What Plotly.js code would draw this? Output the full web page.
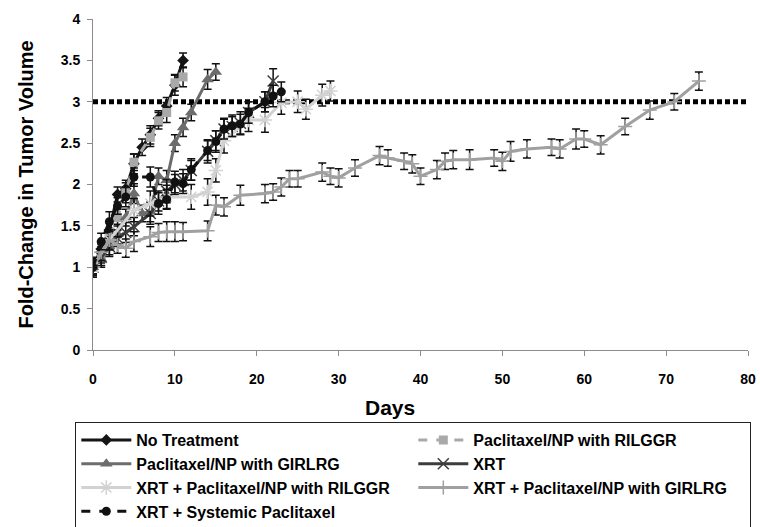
<!DOCTYPE html>
<html>
<head>
<meta charset="utf-8">
<script src="https://cdn.plot.ly/plotly-3.0.1.min.js"></script>
<style>html,body{margin:0;padding:0;background:#fff;}#chart{width:760px;height:527px;}</style>
</head>
<body>
<div id="chart"></div>
<script>
// ---- data ----
const seriesNames = [
  "No Treatment",
  "Paclitaxel/NP with RILGGR",
  "Paclitaxel/NP with GIRLRG",
  "XRT",
  "XRT + Paclitaxel/NP with RILGGR",
  "XRT + Paclitaxel/NP with GIRLRG",
  "XRT + Systemic Paclitaxel"
];

const noTreatDays = [0, 1, 2, 3, 4, 5, 6, 7, 8, 9, 10, 11];
const noTreatVals = [1.0, 1.22, 1.45, 1.88, 1.95, 2.25, 2.45, 2.6, 2.8, 2.95, 3.2, 3.5];
const noTreatErr  = [0.1, 0.08, 0.1, 0.09, 0.1, 0.12, 0.1, 0.11, 0.09, 0.1, 0.12, 0.09];

const rilDays = [0, 1, 2, 3, 4, 5, 7, 8, 9, 10, 11];
const rilVals = [1.0, 1.15, 1.35, 1.6, 1.9, 2.27, 2.57, 2.77, 2.87, 3.23, 3.3];
const rilErr  = [0.08, 0.1, 0.09, 0.1, 0.12, 0.1, 0.11, 0.1, 0.12, 0.1, 0.12];

const girDays = [0, 1, 2, 3, 4, 5, 6, 7, 8, 9, 10, 11, 12, 14, 15];
const girVals = [1.0, 1.1, 1.25, 1.4, 1.6, 1.89, 1.65, 1.67, 2.1, 2.05, 2.5, 2.69, 2.87, 3.27, 3.36];
const girErr  = [0.08, 0.1, 0.1, 0.12, 0.1, 0.12, 0.1, 0.12, 0.1, 0.12, 0.1, 0.11, 0.1, 0.12, 0.1];

const xrtDays = [0, 1, 2, 3, 4, 5, 7, 8, 9, 10, 11, 12, 14, 15, 16, 17, 18, 19, 21, 22];
const xrtVals = [1.0, 1.12, 1.25, 1.35, 1.42, 1.49, 1.65, 1.8, 1.92, 2.0, 2.05, 2.17, 2.4, 2.53, 2.67, 2.7, 2.74, 2.87, 3.0, 3.25];
const xrtErr  = [0.1, 0.1, 0.12, 0.1, 0.12, 0.11, 0.13, 0.12, 0.14, 0.12, 0.13, 0.12, 0.14, 0.12, 0.13, 0.12, 0.14, 0.13, 0.12, 0.15];

const xrtRilDays = [0, 2, 5, 7, 9, 12, 14, 15, 16, 19, 21, 23, 25, 26, 28, 29];
const xrtRilVals = [1.0, 1.33, 1.69, 1.77, 1.85, 1.85, 1.91, 2.17, 2.53, 2.78, 2.78, 2.99, 3.0, 2.91, 3.08, 3.13];
const xrtRilErr  = [0.1, 0.12, 0.14, 0.15, 0.14, 0.15, 0.16, 0.14, 0.15, 0.14, 0.15, 0.14, 0.13, 0.12, 0.13, 0.12];

const xrtGirDays = [0, 1, 2, 3, 4, 5, 7, 8, 9, 10, 11, 14, 15, 16, 18, 21, 22, 23, 24, 25, 28, 29, 30, 32, 35, 36, 38, 39, 40, 42, 43, 44, 46, 49, 50, 51, 53, 56, 57, 59, 60, 62, 65, 68, 71, 74];
const xrtGirVals = [1.0, 1.18, 1.33, 1.27, 1.23, 1.31, 1.37, 1.42, 1.43, 1.43, 1.43, 1.44, 1.75, 1.73, 1.87, 1.89, 1.91, 1.97, 2.07, 2.07, 2.15, 2.1, 2.08, 2.2, 2.35, 2.32, 2.28, 2.25, 2.1, 2.18, 2.28, 2.3, 2.3, 2.32, 2.28, 2.4, 2.43, 2.45, 2.43, 2.55, 2.55, 2.48, 2.7, 2.9, 3.0, 3.25];
const xrtGirErr  = [0.08, 0.1, 0.12, 0.1, 0.11, 0.12, 0.12, 0.11, 0.12, 0.12, 0.11, 0.12, 0.12, 0.11, 0.12, 0.11, 0.1, 0.11, 0.1, 0.1, 0.11, 0.1, 0.11, 0.1, 0.11, 0.1, 0.1, 0.11, 0.1, 0.11, 0.1, 0.11, 0.12, 0.1, 0.11, 0.12, 0.11, 0.1, 0.11, 0.12, 0.1, 0.11, 0.1, 0.11, 0.1, 0.11];

const sysDays = [0, 1, 2, 3, 4, 5, 7, 8, 9, 10, 11, 12, 14, 15, 16, 17, 18, 19, 21, 22, 23];
const sysVals = [1.0, 1.31, 1.55, 1.74, 1.85, 2.09, 2.09, 1.77, 1.82, 2.03, 2.01, 2.18, 2.41, 2.52, 2.67, 2.71, 2.73, 2.87, 3.0, 3.07, 3.12];
const sysErr  = [0.12, 0.1, 0.12, 0.1, 0.12, 0.11, 0.12, 0.13, 0.12, 0.13, 0.12, 0.13, 0.12, 0.13, 0.12, 0.13, 0.12, 0.13, 0.12, 0.13, 0.12];

const thresholdDays = [0, 80];
const thresholdVals = [3, 3];

const xTicks = [0, 10, 20, 30, 40, 50, 60, 70, 80];
const yTicks = [0, 0.5, 1, 1.5, 2, 2.5, 3, 3.5, 4];
const yTickLabels = ["0", "0.5", "1", "1.5", "2", "2.5", "3", "3.5", "4"];
const xTitle = "Days";
const yTitle = "Fold-Change in Tumor Volume";

// ---- styling ----
function errBar(arr) {
  return {type: 'data', array: arr, visible: true, color: '#111', thickness: 1.5, width: 4};
}
function series(name, xs, ys, err, color, dash, symbol, msize, mline) {
  return {
    type: 'scatter', mode: 'lines+markers', name: name, x: xs, y: ys,
    error_y: errBar(err),
    line: {color: color, width: 3, dash: dash},
    marker: {color: color, symbol: symbol, size: msize, line: {color: color, width: mline}}
  };
}

const traces = [
  {type: 'scatter', mode: 'lines', x: thresholdDays, y: thresholdVals, showlegend: false, hoverinfo: 'skip',
   line: {color: '#000', width: 5, dash: '5px,3px'}},
  series(seriesNames[0], noTreatDays, noTreatVals, noTreatErr, '#151515', 'solid', 'diamond', 9, 0),
  series(seriesNames[1], rilDays, rilVals, rilErr, '#a9a9a9', 'dash', 'square', 9, 0),
  series(seriesNames[2], girDays, girVals, girErr, '#6c6c6c', 'solid', 'triangle-up', 11, 0),
  series(seriesNames[3], xrtDays, xrtVals, xrtErr, '#3c3c3c', 'solid', 'x-thin-open', 11, 1.5),
  series(seriesNames[4], xrtRilDays, xrtRilVals, xrtRilErr, '#d2d2d2', 'solid', 'asterisk-open', 12, 1.5),
  series(seriesNames[5], xrtGirDays, xrtGirVals, xrtGirErr, '#a0a0a0', 'solid', 'cross-thin-open', 10, 1.5),
  series(seriesNames[6], sysDays, sysVals, sysErr, '#111111', 'dash', 'circle', 9, 0)
];

const axisFont = {family: 'Liberation Sans, Arial, sans-serif', size: 14, color: '#000', weight: 'bold'};

const layout = {
  width: 760, height: 527,
  margin: {l: 93, r: 12, t: 19, b: 177, autoexpand: false},
  paper_bgcolor: '#fff', plot_bgcolor: '#fff',
  showlegend: true,
  xaxis: {
    range: [0, 80], tickvals: xTicks, ticktext: xTicks.map(String),
    showgrid: false, zeroline: false, showline: true, linecolor: '#8c8c8c', linewidth: 1,
    ticks: 'outside', ticklen: 5, tickcolor: '#8c8c8c',
    tickfont: axisFont, ticklabelstandoff: 11
  },
  yaxis: {
    range: [0, 4], tickvals: yTicks, ticktext: yTickLabels,
    showgrid: false, zeroline: false, showline: true, linecolor: '#8c8c8c', linewidth: 1,
    ticks: 'outside', ticklen: 5, tickcolor: '#8c8c8c',
    tickfont: axisFont, ticklabelstandoff: 4,
    title: {text: yTitle, font: {family: 'Liberation Sans, Arial, sans-serif', size: 20, color: '#000', weight: 'bold'}, standoff: 21}
  },
  annotations: [{
    text: xTitle, xref: 'paper', yref: 'paper', x: 0.4534, y: -0.175,
    xanchor: 'center', yanchor: 'middle', showarrow: false,
    font: {family: 'Liberation Sans Narrow, Liberation Sans, Arial, sans-serif', size: 21, color: '#000', weight: 'bold'}
  }],
  legend: {
    orientation: 'h', x: -0.027, xanchor: 'left', y: -0.2175, yanchor: 'top',
    entrywidth: 272, entrywidthmode: 'pixels', itemwidth: 50,
    bordercolor: '#222', borderwidth: 1, bgcolor: '#fff',
    font: {family: 'Liberation Sans Narrow, Liberation Sans, Arial, sans-serif', size: 16, color: '#000', weight: 'bold'},
    traceorder: 'normal'
  }
};

Plotly.newPlot('chart', traces, layout, {displayModeBar: false, staticPlot: true});
</script>
</body>
</html>
